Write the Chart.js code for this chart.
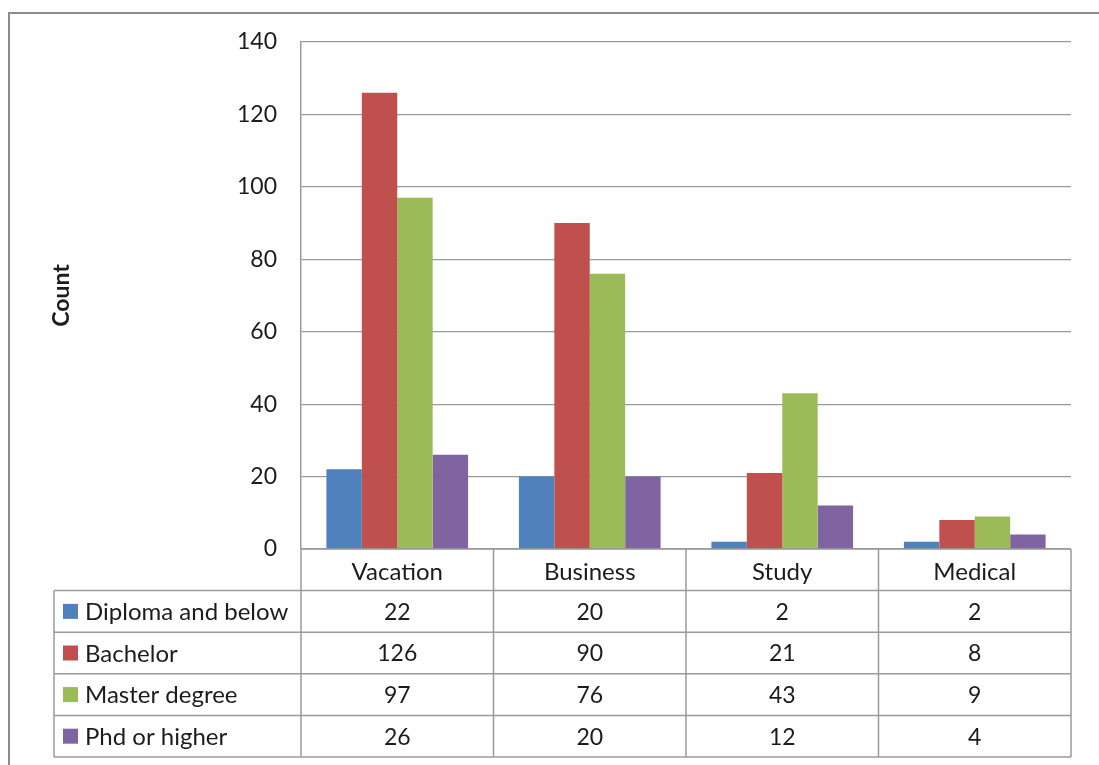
<!DOCTYPE html>
<html>
<head>
<meta charset="utf-8">
<script src="https://cdn.jsdelivr.net/npm/chart.js@4/dist/chart.umd.min.js"></script>
<style>
  html, body { margin: 0; padding: 0; background: #ffffff; }
  #wrap { position: relative; width: 1099px; height: 765px; }
</style>
</head>
<body>
<div id="wrap"><canvas id="c" width="1099" height="765"></canvas></div>
<script>
// Trip purpose by education level
const categories = ['Vacation', 'Business', 'Study', 'Medical'];
const seriesNames = ['Diploma and below', 'Bachelor', 'Master degree', 'Phd or higher'];
const diplomaValues = [22, 20, 2, 2];
const bachelorValues = [126, 90, 21, 8];
const masterValues = [97, 76, 43, 9];
const phdValues = [26, 20, 12, 4];
const seriesColors = ['#4F81BD', '#C0504D', '#9BBB59', '#8064A2'];
const yTickValues = [0, 20, 40, 60, 80, 100, 120, 140];

const FONT = 'Lato, "Open Sans", sans-serif';
const TEXT = '#1c1c1c';
const LINE = '#9a9a9a';

const allSeries = [diplomaValues, bachelorValues, masterValues, phdValues];

// Data table under the plot: category header row plus one row per series
const dataTable = {
  id: 'dataTable',
  afterDraw(chart) {
    const ctx = chart.ctx;
    const area = chart.chartArea;
    const x = chart.scales.x;
    const colW = (area.right - area.left) / categories.length;
    const rowH = 41.6;
    const top = area.bottom;
    const tableLeft = 54;
    const nRows = allSeries.length;
    const bottom = top + rowH * (nRows + 1);

    ctx.save();
    ctx.strokeStyle = LINE;
    ctx.lineWidth = 1.5;
    ctx.beginPath();
    // header row
    ctx.moveTo(area.left, top); ctx.lineTo(area.right, top);
    for (let i = 0; i <= categories.length; i++) {
      const cx = area.left + i * colW;
      ctx.moveTo(cx, top); ctx.lineTo(cx, bottom);
    }
    // series rows
    for (let r = 1; r <= nRows + 1; r++) {
      const y = top + r * rowH;
      ctx.moveTo(tableLeft, y); ctx.lineTo(area.right, y);
    }
    ctx.moveTo(tableLeft, top + rowH); ctx.lineTo(tableLeft, bottom);
    ctx.stroke();

    ctx.textBaseline = 'middle';
    for (let r = 0; r < nRows; r++) {
      const cy = top + (r + 1.5) * rowH;
      ctx.fillStyle = seriesColors[r];
      ctx.fillRect(63, cy - 7.5, 15, 15);
      ctx.fillStyle = TEXT;
      ctx.textAlign = 'left';
      ctx.font = '24px ' + FONT;
      ctx.fillText(seriesNames[r], 85, cy + 1);
      ctx.textAlign = 'center';
      ctx.font = '23px ' + FONT;
      allSeries[r].forEach((v, i) => {
        ctx.fillText(String(v), x.getPixelForValue(i), cy + 1);
      });
    }

    // outer frame
    ctx.strokeStyle = '#8c8c8c';
    ctx.lineWidth = 2;
    ctx.beginPath();
    ctx.moveTo(9, 765); ctx.lineTo(9, 13); ctx.lineTo(1099, 13);
    ctx.stroke();
    ctx.restore();
  }
};

new Chart(document.getElementById('c'), {
  type: 'bar',
  data: {
    labels: categories,
    datasets: seriesNames.map((name, i) => ({
      label: name,
      data: allSeries[i],
      backgroundColor: seriesColors[i],
      borderWidth: 0,
      categoryPercentage: 0.736,
      barPercentage: 1.0
    }))
  },
  options: {
    responsive: false,
    animation: false,
    events: [],
    layout: { padding: { left: 40, top: 42, right: 28, bottom: 180 } },
    plugins: {
      legend: { display: false },
      tooltip: { enabled: false },
      title: { display: false }
    },
    scales: {
      x: {
        grid: { display: false, drawTicks: false },
        border: { display: false },
        ticks: { color: TEXT, font: { family: FONT, size: 24 }, padding: 9, maxRotation: 0, autoSkip: false },
        afterFit(s) { s.height = 36; }
      },
      y: {
        min: 0,
        max: 140,
        afterBuildTicks(s) { s.ticks = yTickValues.map(v => ({ value: v })); },
        grid: { color: LINE, lineWidth: 1.2, drawTicks: false },
        border: { display: true, color: LINE, width: 1.5 },
        ticks: { color: TEXT, font: { family: FONT, size: 23 }, padding: 24 },
        title: {
          display: true,
          text: 'Count',
          color: TEXT,
          font: { family: FONT, size: 23, weight: 'bold' },
          padding: { top: 8, bottom: 0 }
        },
        afterFit(s) { s.width = 261; }
      }
    }
  },
  plugins: [dataTable]
});
</script>
</body>
</html>
